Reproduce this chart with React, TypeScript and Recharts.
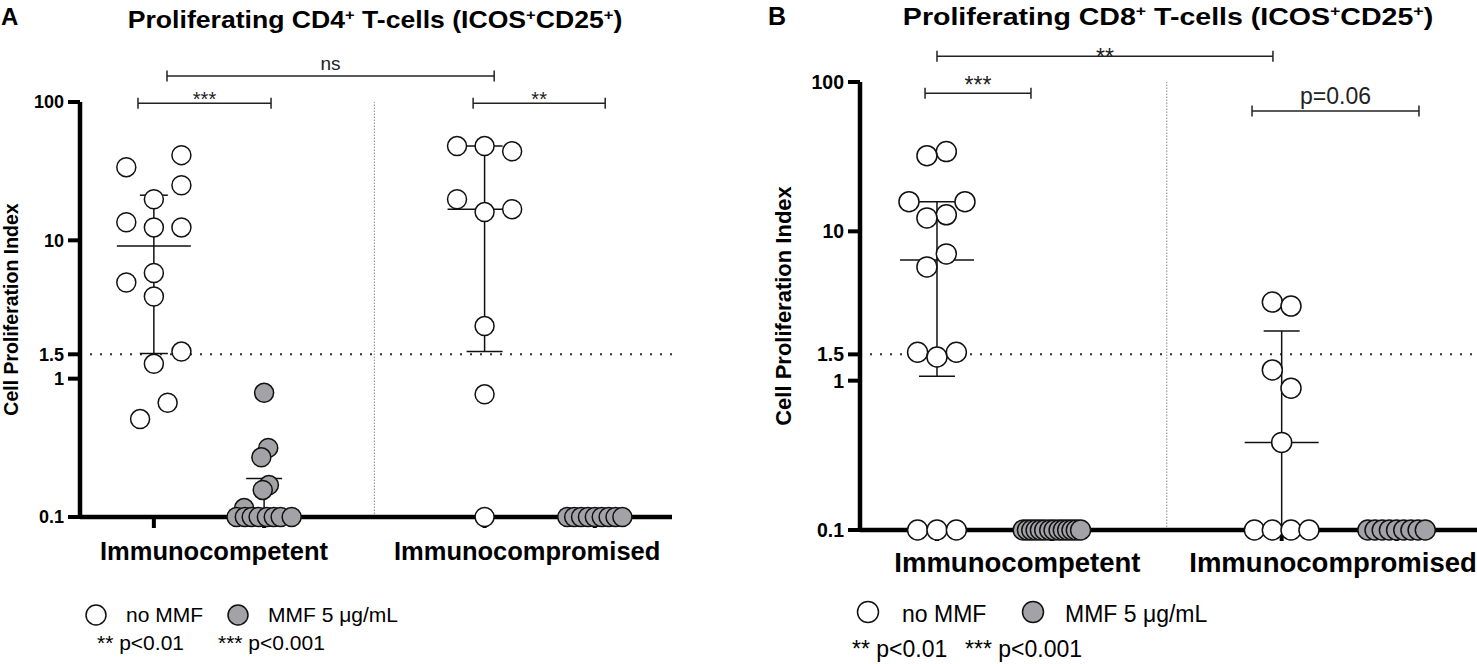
import {
  ScatterChart,
  Scatter,
  XAxis,
  YAxis,
  ReferenceLine,
  ErrorBar,
} from "recharts";

// x positions of the four groups (3 = separator between the two cohorts)
const GROUP_POS = [1, 2, 4, 5];
const Y_TICKS = [0.1, 1, 1.5, 10, 100];
const CATEGORIES = ["Immunocompetent", "Immunocompromised"];
const SLOT = 0.125; // jitter column width in x units

// ---- panel A: CD4+ ----
const cd4CompNo = [41.3, 33.8, 25.0, 19.8, 13.5, 12.4, 12.4, 5.8, 4.96, 3.93, 1.57, 1.28, 0.67, 0.51];
const cd4CompNoCols = [2, -2, 2, 0, -2, 0, 2, 0, -2, 0, 2, 0, 1, -1];
const cd4CompMmf = [0.79, 0.316, 0.27, 0.17, 0.157, 0.116, 0.1, 0.1, 0.1, 0.1, 0.1, 0.1, 0.1, 0.1];
const cd4CompMmfCols = [0, 0.3, -0.2, 0.35, -0.1, -1.45, -2, -1.4, -0.9, -0.4, 0.2, 0.7, 1.2, 2];
const cd4ImmNo = [48, 48, 44, 19.8, 16.8, 16, 2.4, 0.77, 0.1];
const cd4ImmNoCols = [-2, 0, 2, -2, 2, 0, 0, 0, 0];
const cd4ImmMmf = [0.1, 0.1, 0.1, 0.1, 0.1, 0.1, 0.1, 0.1, 0.1];
const cd4ImmMmfCols = [-2, -1.5, -1, -0.5, 0, 0.5, 1, 1.5, 2];
const cd4Median = [9.1, 0.1, 16.8, 0.1];
const cd4Q1 = [1.52, 0.1, 1.57, 0.1];
const cd4Q3 = [21.2, 0.19, 48, 0.1];
const cd4Brackets = [
  { from: 0.856, to: 2.063, level: 98, label: "***" },
  { from: 1.119, to: 4.087, level: 154, label: "ns" },
  { from: 3.896, to: 5.094, level: 98, label: "**" },
];

// ---- panel B: CD8+ ----
const cd8CompNo = [34.2, 32.1, 15.8, 15.8, 12.9, 12.3, 7.06, 5.78, 1.55, 1.44, 1.55, 0.1, 0.1, 0.1];
const cd8CompNoCols = [0.65, -0.7, -1.95, 1.95, 0.65, -0.7, 0.65, -0.7, -1.35, 0, 1.35, -1.35, 0, 1.35];
const cd8CompMmf = [0.1, 0.1, 0.1, 0.1, 0.1, 0.1, 0.1, 0.1, 0.1, 0.1, 0.1, 0.1, 0.1, 0.1];
const cd8CompMmfCols = [-2, -1.7, -1.4, -1.1, -0.8, -0.5, -0.15, 0.15, 0.5, 0.8, 1.1, 1.4, 1.7, 2];
const cd8ImmNo = [3.36, 3.16, 1.18, 0.89, 0.386, 0.1, 0.1, 0.1, 0.1];
const cd8ImmNoCols = [-0.65, 0.65, -0.65, 0.65, 0, -1.9, -0.65, 0.65, 1.9];
const cd8ImmMmf = [0.1, 0.1, 0.1, 0.1, 0.1, 0.1, 0.1, 0.1, 0.1];
const cd8ImmMmfCols = [-2, -1.5, -1, -0.5, 0, 0.5, 1, 1.5, 2];
const cd8Median = [6.42, 0.1, 0.386, 0.1];
const cd8Q1 = [1.07, 0.1, 0.1, 0.1];
const cd8Q3 = [15.8, 0.1, 2.15, 0.1];
const cd8Brackets = [
  { from: 1.0, to: 3.924, level: 149, label: "**" },
  { from: 0.896, to: 1.818, level: 84, label: "***" },
  { from: 3.742, to: 5.195, level: 64, label: "p=0.06" },
];

const GREY = "#a3a3a7";
const INK = "#111";
const X_DOMAIN = [0.33, 5.7];

const toPoints = (pos: number, vals: number[], cols: number[]) =>
  vals.map((v, i) => ({ x: pos + cols[i] * SLOT, y: v }));

const toSummary = (med: number[], q1: number[], q3: number[]) =>
  med.map((m, i) => ({ x: GROUP_POS[i], y: m, err: [m - q1[i], q3[i] - m] }));

const Bracket = (p: any) => (
  <g>
    <line x1={p.x1} y1={p.y1} x2={p.x2} y2={p.y2} stroke="#222" strokeWidth={1.5} />
    <line x1={p.x1} y1={p.y1 - 5.5} x2={p.x1} y2={p.y1 + 5.5} stroke="#222" strokeWidth={1.5} />
    <line x1={p.x2} y1={p.y2 - 5.5} x2={p.x2} y2={p.y2 + 5.5} stroke="#222" strokeWidth={1.5} />
  </g>
);

type Summary = { x: number; y: number; err: number[] };

type PanelProps = {
  left: number;
  width: number;
  height: number;
  margin: { top: number; right: number; bottom: number; left: number };
  yWidth: number;
  yLabelOffset: number;
  yLabelSize: number;
  r: number;
  s: number; // font scale
  labelPos: number[];
  labelMargin: number;
  noMmf: { x: number; y: number }[];
  mmf: { x: number; y: number }[];
  summary: Summary[];
  summaryOnTop: number[]; // groups whose median/IQR is drawn over the dots
  brackets: { from: number; to: number; level: number; label: string }[];
  bracketText: { size: number; offset: number }[];
};

function Panel(p: PanelProps) {
  const dot = (fill: string) => (q: any) =>
    <circle cx={q.cx} cy={q.cy} r={p.r} fill={fill} stroke={INK} strokeWidth={1.5} />;
  const median = (q: any) => (
    <line x1={q.cx - 37} x2={q.cx + 37} y1={q.cy} y2={q.cy} stroke={INK} strokeWidth={1.5} />
  );
  const yLabel = (lp: any) => {
    const vb = lp.viewBox;
    const cx = vb.x + p.yLabelOffset;
    const cy = vb.y + vb.height / 2;
    return (
      <text
        x={cx}
        y={cy}
        transform={`rotate(-90 ${cx} ${cy})`}
        textAnchor="middle"
        dominantBaseline="central"
        fontSize={p.yLabelSize}
        fontWeight="bold"
        fill="#000"
      >
        Cell Proliferation Index
      </text>
    );
  };
  const labelAnchors = p.labelPos.map((x) => ({ x, y: 1 }));
  const under = p.summary.filter((_, i) => !p.summaryOnTop.includes(i));
  const over = p.summary.filter((_, i) => p.summaryOnTop.includes(i));
  return (
    <div style={{ position: "absolute", left: p.left, top: 0 }}>
      <ScatterChart width={p.width} height={p.height} margin={p.margin}>
        <XAxis
          xAxisId={0}
          type="number"
          dataKey="x"
          domain={X_DOMAIN}
          ticks={GROUP_POS}
          interval={0}
          tickFormatter={() => ""}
          tickSize={11}
          height={10}
          axisLine={{ stroke: "#000", strokeWidth: 4.5 }}
          tickLine={{ stroke: "#000", strokeWidth: 4 }}
        />
        <XAxis
          xAxisId={1}
          type="number"
          dataKey="x"
          domain={X_DOMAIN}
          ticks={p.labelPos}
          tickFormatter={(v: number) => CATEGORIES[p.labelPos.indexOf(v)] ?? ""}
          axisLine={false}
          tickLine={false}
          tickSize={0}
          tickMargin={p.labelMargin}
          height={40}
          interval={0}
          tick={{ fill: "#000", fontSize: 25.5 * p.s, fontWeight: "bold" }}
        />
        <YAxis
          type="number"
          dataKey="y"
          scale="log"
          domain={[0.1, 100]}
          ticks={Y_TICKS}
          interval={0}
          tickFormatter={(v: number) => String(v)}
          width={p.yWidth}
          tickSize={12}
          tickMargin={4}
          axisLine={{ stroke: "#000", strokeWidth: 4.5 }}
          tickLine={{ stroke: "#000", strokeWidth: 4 }}
          tick={{ fill: "#000", fontSize: 18 * p.s, fontWeight: "bold" }}
          label={{ position: "insideLeft", content: yLabel }}
        />
        <ReferenceLine x={3} stroke="#888" strokeWidth={1} strokeDasharray="1.5 1.5" />
        <ReferenceLine y={1.5} stroke="#333" strokeWidth={2} strokeDasharray="2 8" />
        {p.brackets.map((b, i) => (
          <ReferenceLine
            key={i}
            ifOverflow="visible"
            segment={[
              { x: b.from, y: b.level },
              { x: b.to, y: b.level },
            ]}
            shape={Bracket}
            label={{
              value: b.label,
              position: "top",
              offset: p.bracketText[i].offset,
              fontSize: p.bracketText[i].size,
              fill: "#222",
            }}
          />
        ))}
        {/* invisible anchors that give the category-label axis its data */}
        <Scatter xAxisId={1} data={labelAnchors} shape={() => <g />} isAnimationActive={false} />
        <Scatter data={under} shape={median} isAnimationActive={false}>
          <ErrorBar dataKey="err" direction="y" width={18} stroke={INK} strokeWidth={1.5} />
        </Scatter>
        <Scatter data={p.mmf} shape={dot(GREY)} isAnimationActive={false} />
        <Scatter data={p.noMmf} shape={dot("#fff")} isAnimationActive={false} />
        {over.length > 0 && (
          <Scatter data={over} shape={median} isAnimationActive={false}>
            <ErrorBar dataKey="err" direction="y" width={14} stroke={INK} strokeWidth={1.5} />
          </Scatter>
        )}
      </ScatterChart>
    </div>
  );
}

const Title = ({ x, y, size, sx, cd }: { x: number; y: number; size: number; sx: number; cd: string }) => {
  const sup = size * 0.62;
  const up = size * 0.36;
  return (
    <g transform={`translate(${x} ${y}) scale(${sx} 1)`}>
      <text x={0} y={0} textAnchor="middle" fontSize={size} fontWeight="bold" fill="#000">
        {`Proliferating ${cd}`}
        <tspan dy={-up} fontSize={sup}>+</tspan>
        <tspan dy={up}> T-cells (ICOS</tspan>
        <tspan dy={-up} fontSize={sup}>+</tspan>
        <tspan dy={up}>CD25</tspan>
        <tspan dy={-up} fontSize={sup}>+</tspan>
        <tspan dy={up}>)</tspan>
      </text>
    </g>
  );
};

export default function App() {
  const cd4Points = [
    ...toPoints(GROUP_POS[0], cd4CompNo, cd4CompNoCols),
    ...toPoints(GROUP_POS[2], cd4ImmNo, cd4ImmNoCols),
  ];
  const cd4Mmf = [
    ...toPoints(GROUP_POS[1], cd4CompMmf, cd4CompMmfCols),
    ...toPoints(GROUP_POS[3], cd4ImmMmf, cd4ImmMmfCols),
  ];
  const cd8Points = [
    ...toPoints(GROUP_POS[0], cd8CompNo, cd8CompNoCols),
    ...toPoints(GROUP_POS[2], cd8ImmNo, cd8ImmNoCols),
  ];
  const cd8Mmf = [
    ...toPoints(GROUP_POS[1], cd8CompMmf, cd8CompMmfCols),
    ...toPoints(GROUP_POS[3], cd8ImmMmf, cd8ImmMmfCols),
  ];

  return (
    <div
      style={{
        position: "absolute",
        left: 0,
        top: 0,
        width: 1477,
        height: 664,
        background: "#fff",
        fontFamily: "'Liberation Sans', Arial, Helvetica, sans-serif",
        overflow: "hidden",
      }}
    >
      <Panel
        left={0}
        width={690}
        height={600}
        margin={{ top: 102, right: 18, bottom: 33, left: 0 }}
        yWidth={80}
        yLabelOffset={11}
        yLabelSize={19.5}
        r={9.5}
        s={1}
        labelPos={[1.546, 4.386]}
        labelMargin={15}
        noMmf={cd4Points}
        mmf={cd4Mmf}
        summary={toSummary(cd4Median, cd4Q1, cd4Q3)}
        summaryOnTop={[0]}
        brackets={cd4Brackets}
        bracketText={[
          { size: 20, offset: -3 },
          { size: 19, offset: 6 },
          { size: 20, offset: -3 },
        ]}
      />
      <Panel
        left={770}
        width={707}
        height={620}
        margin={{ top: 82, right: 0, bottom: 40, left: 0 }}
        yWidth={90}
        yLabelOffset={13}
        yLabelSize={22}
        r={10}
        s={1.08}
        labelPos={[1.7, 4.447]}
        labelMargin={12.5}
        noMmf={cd8Points}
        mmf={cd8Mmf}
        summary={toSummary(cd8Median, cd8Q1, cd8Q3)}
        summaryOnTop={[]}
        brackets={cd8Brackets}
        bracketText={[
          { size: 23, offset: -9 },
          { size: 23, offset: 0 },
          { size: 23, offset: 7 },
        ]}
      />
      <svg
        width={1477}
        height={664}
        style={{ position: "absolute", left: 0, top: 0, pointerEvents: "none" }}
      >
        <text x={1} y={25} fontSize={24} fontWeight="bold">A</text>
        <text x={768} y={25} fontSize={25} fontWeight="bold">B</text>
        <Title x={375} y={28} size={23} sx={1.157} cd="CD4" />
        <Title x={1168} y={25} size={24.5} sx={1.165} cd="CD8" />

        <circle cx={96} cy={615} r={10} fill="#fff" stroke={INK} strokeWidth={1.5} />
        <text x={126} y={622} fontSize={21}>no MMF</text>
        <circle cx={238} cy={615} r={10} fill={GREY} stroke={INK} strokeWidth={1.5} />
        <text x={268} y={622} fontSize={21}>MMF 5 μg/mL</text>
        <text x={97} y={650} fontSize={21}>** p&lt;0.01</text>
        <text x={218} y={650} fontSize={21}>*** p&lt;0.001</text>

        <circle cx={868} cy={612} r={10.5} fill="#fff" stroke={INK} strokeWidth={1.5} />
        <text x={902} y={622} fontSize={23}>no MMF</text>
        <circle cx={1033} cy={612} r={10.5} fill={GREY} stroke={INK} strokeWidth={1.5} />
        <text x={1065} y={622} fontSize={23}>MMF 5 μg/mL</text>
        <text x={852} y={657} fontSize={23}>** p&lt;0.01</text>
        <text x={965} y={657} fontSize={23}>*** p&lt;0.001</text>
      </svg>
    </div>
  );
}
